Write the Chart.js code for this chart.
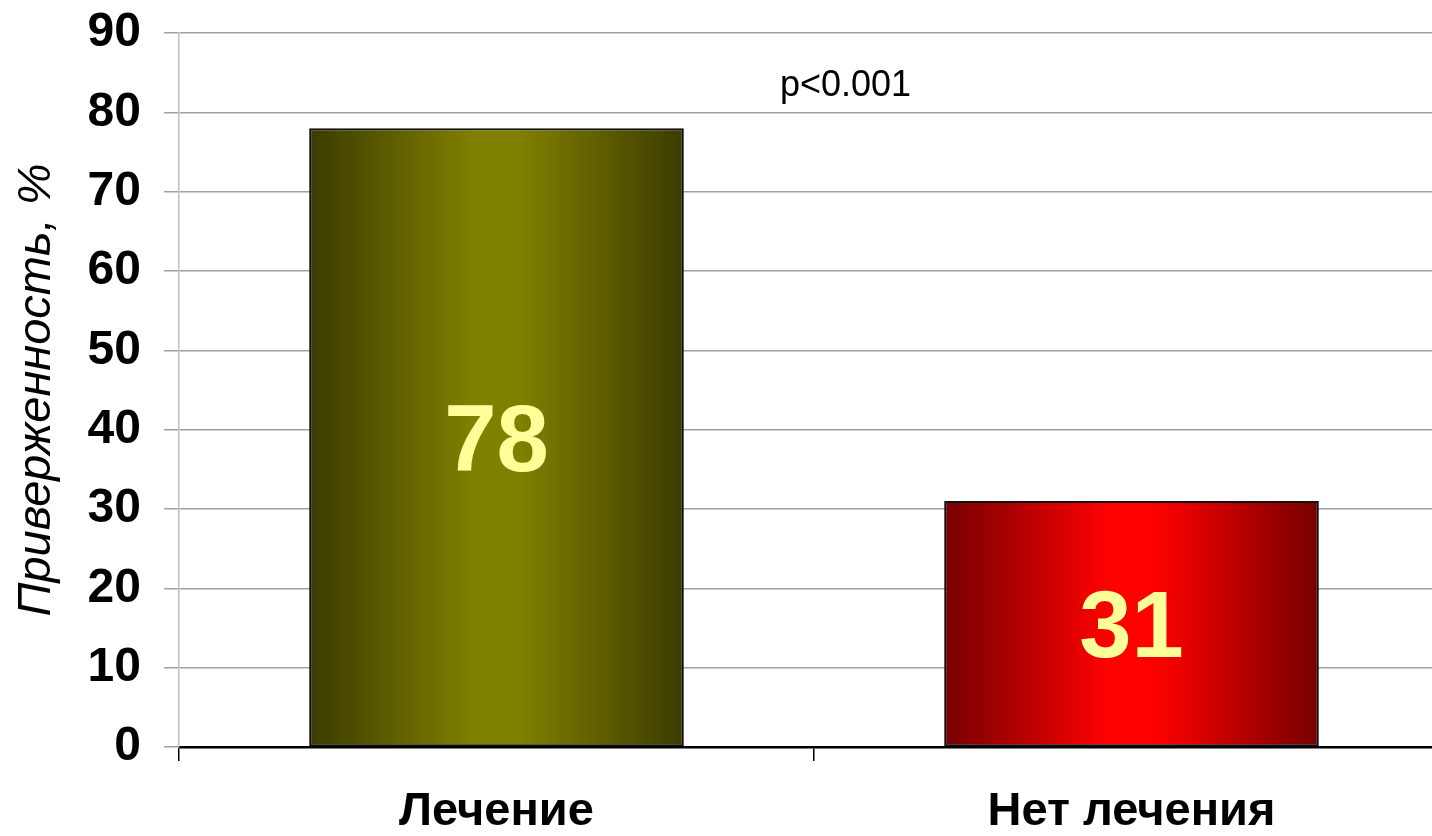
<!DOCTYPE html>
<html>
<head>
<meta charset="utf-8">
<script src="https://cdn.jsdelivr.net/npm/chart.js@4.4.1/dist/chart.umd.min.js"></script>
<style>
  html, body { margin: 0; padding: 0; background: #fff; overflow: hidden; }
  #wrap { position: relative; width: 1449px; height: 836px; }
</style>
</head>
<body>
<div id="wrap"><canvas id="c"></canvas></div>
<script>
const categories = ['Лечение', 'Нет лечения'];
const values = [78, 31];
const yTicks = [0, 10, 20, 30, 40, 50, 60, 70, 80, 90];
const yTitle = 'Приверженность, %';
const pValueText = 'p<0.001';
const barEdgeColors = ['#3b3b00', '#760000'];
const barCenterColors = ['#808000', '#ff0000'];

const FONT = '"Liberation Sans", Arial, sans-serif';

function barGradient(ctx) {
  const chart = ctx.chart;
  const i = ctx.dataIndex;
  if (!chart.chartArea || i === undefined) return barCenterColors[i || 0];
  const xs = chart.scales.x;
  const cx = xs.getPixelForValue(i);
  const w = (xs.width / categories.length) * 0.59;
  const g = chart.ctx.createLinearGradient(cx - w / 2, 0, cx + w / 2, 0);
  g.addColorStop(0, barEdgeColors[i]);
  g.addColorStop(0.44, barCenterColors[i]);
  g.addColorStop(0.56, barCenterColors[i]);
  g.addColorStop(1, barEdgeColors[i]);
  return g;
}

const labelsPlugin = {
  id: 'labelsPlugin',
  afterDatasetsDraw(chart) {
    const ctx = chart.ctx;
    const meta = chart.getDatasetMeta(0);
    ctx.save();
    ctx.fillStyle = '#ffff99';
    ctx.font = 'bold 94px ' + FONT;
    ctx.textAlign = 'center';
    ctx.textBaseline = 'alphabetic';
    meta.data.forEach((el, i) => {
      const cy = (el.y + el.base) / 2;
      ctx.fillText(String(values[i]), el.x, cy + 0.36 * 94);
    });
    // p-value annotation
    const xs = chart.scales.x, ys = chart.scales.y;
    const mid = (xs.getPixelForValue(0) + xs.getPixelForValue(1)) / 2;
    ctx.fillStyle = '#000';
    ctx.font = '36px ' + FONT;
    ctx.textAlign = 'left';
    ctx.fillText(pValueText, mid - 34, ys.getPixelForValue(82));
    ctx.restore();
  }
};

new Chart(document.getElementById('c'), {
  type: 'bar',
  data: {
    labels: categories,
    datasets: [{
      data: values,
      backgroundColor: barGradient,
      borderColor: '#111',
      borderWidth: 2,
      borderSkipped: false,
      categoryPercentage: 1.0,
      barPercentage: 0.59
    }]
  },
  options: {
    responsive: true,
    maintainAspectRatio: false,
    animation: false,
    layout: { padding: { top: 33, left: 0, right: 0, bottom: 0 } },
    plugins: { legend: { display: false }, tooltip: { enabled: false } },
    scales: {
      x: {
        offset: true,
        grid: {
          offset: true,
          drawOnChartArea: false,
          drawTicks: true,
          tickLength: 14,
          color: '#000',
          lineWidth: 1.5
        },
        border: { display: true, color: '#000', width: 2.5 },
        ticks: {
          color: '#000',
          font: { family: FONT, size: 47, weight: 'bold' },
          padding: 23,
          maxRotation: 0
        },
        afterFit(scale) {
          scale.height = 89;
          scale.paddingLeft = 0; scale.paddingRight = 0;
        }
      },
      y: {
        min: 0,
        max: 90,
        afterBuildTicks(scale) { scale.ticks = yTicks.map(v => ({ value: v })); },
        grid: {
          color: '#a0a0a0',
          lineWidth: 1.5,
          drawTicks: true,
          tickLength: 15
        },
        border: { display: true, color: '#c0c0c0', width: 1.5 },
        ticks: {
          color: '#000',
          font: { family: FONT, size: 48, weight: 'bold' },
          padding: 23
        },
        title: {
          display: true,
          text: yTitle,
          color: '#000',
          font: { family: FONT, size: 47, style: 'italic', weight: 'normal' },
          padding: { top: 9, bottom: 0 }
        },
        afterFit(scale) {
          scale.width = 179;
          scale.paddingTop = 0; scale.paddingBottom = 0;
        }
      }
    }
  },
  plugins: [labelsPlugin]
});
</script>
</body>
</html>
